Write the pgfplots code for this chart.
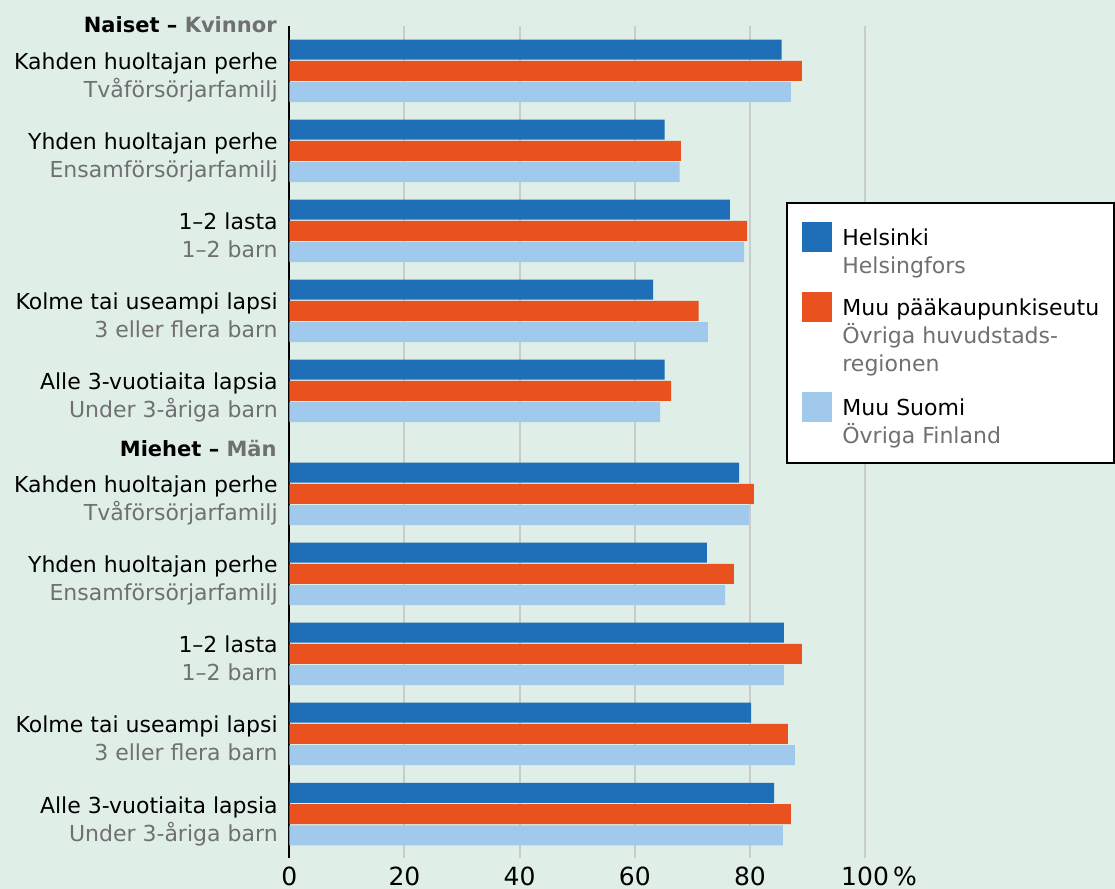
\documentclass[border=0pt]{standalone}
\usepackage{pgfplots}
\pgfplotsset{compat=1.18}
\usepackage{fontspec}
\setmainfont{DejaVu Sans}
\definecolor{hblue}{RGB}{30,111,184}
\definecolor{horange}{RGB}{233,82,30}
\definecolor{hlight}{RGB}{160,201,235}
\definecolor{bgc}{RGB}{223,239,231}
\definecolor{gridc}{RGB}{200,204,202}
\definecolor{txtgray}{RGB}{112,112,112}
\newcommand{\lab}[2]{#1\strut\\\textcolor{txtgray}{#2\strut}}
\begin{document}
\begin{tikzpicture}
\fill[bgc] (0,0) rectangle (557.5bp,444.5bp);
\begin{axis}[
  at={(144.65bp,15.5bp)},anchor=south west,
  scale only axis,width=412.85bp,height=416bp,
  xbar,bar width=0.25,
  xmin=0,xmax=143.4,ymin=-9.8375,ymax=0.5625,
  axis lines=left,axis line style={-},
  x axis line style={draw=none},
  y axis line style={black,line width=1.2bp},
  xmajorgrids,grid style={gridc,line width=1bp},
  major tick length=0,
  xtick={0,20,40,60,80,100},
  xticklabels={0,20,40,60,80,{100\rlap{\,\%}}},
  xticklabel style={font=\fontsize{12.5bp}{14bp}\selectfont,yshift=-1bp},
  ytick={0,-1,-2,-3,-4,-5.2875,-6.2875,-7.2875,-8.2875,-9.29},
  yticklabels={
    {\lab{Kahden huoltajan perhe}{Tvåförsörjarfamilj}},
    {\lab{Yhden huoltajan perhe}{Ensamförsörjarfamilj}},
    {\lab{1–2 lasta}{1–2 barn}},
    {\lab{Kolme tai useampi lapsi}{3 eller flera barn}},
    {\lab{Alle 3-vuotiaita lapsia}{Under 3-åriga barn}},
    {\lab{Kahden huoltajan perhe}{Tvåförsörjarfamilj}},
    {\lab{Yhden huoltajan perhe}{Ensamförsörjarfamilj}},
    {\lab{1–2 lasta}{1–2 barn}},
    {\lab{Kolme tai useampi lapsi}{3 eller flera barn}},
    {\lab{Alle 3-vuotiaita lapsia}{Under 3-åriga barn}}},
  yticklabel style={align=right,font=\fontsize{11bp}{14bp}\selectfont,yshift=-3.6bp,xshift=-2.3bp},
  clip=false,
]
% Helsinki
\addplot[draw=none,fill=hblue,bar shift=0.268] coordinates {
 (85.5,0) (65.2,-1) (76.5,-2) (63.2,-3) (65.2,-4)
 (78.1,-5.2875) (72.5,-6.2875) (85.9,-7.2875) (80.2,-8.2875) (84.2,-9.29)};
% Muu paakaupunkiseutu
\addplot[draw=none,fill=horange,bar shift=0] coordinates {
 (89.0,0) (68.0,-1) (79.5,-2) (71.1,-3) (66.3,-4)
 (80.7,-5.2875) (77.2,-6.2875) (89.0,-7.2875) (86.6,-8.2875) (87.1,-9.29)};
% Muu Suomi
\addplot[draw=none,fill=hlight,bar shift=-0.265] coordinates {
 (87.1,0) (67.8,-1) (79.0,-2) (72.7,-3) (64.4,-4)
 (79.8,-5.2875) (75.7,-6.2875) (85.9,-7.2875) (87.8,-8.2875) (85.7,-9.29)};
\end{axis}
% section headers
\node[anchor=base east,inner sep=0pt,font=\fontsize{10.5bp}{14bp}\selectfont\bfseries] at (138.5bp,428bp) {Naiset – \textcolor{txtgray}{Kvinnor}};
\node[anchor=base east,inner sep=0pt,font=\fontsize{10.5bp}{14bp}\selectfont\bfseries] at (138.5bp,216bp) {Miehet – \textcolor{txtgray}{Män}};
% legend
\draw[black,line width=0.75bp,fill=white] (393.5bp,343bp) rectangle (557bp,213bp);
\fill[hblue] (401bp,333.5bp) rectangle (416bp,318.5bp);
\fill[horange] (401bp,298.5bp) rectangle (416bp,283.5bp);
\fill[hlight] (401bp,248.5bp) rectangle (416bp,233.5bp);
\begin{scope}[every node/.style={anchor=base west,inner sep=0pt,font=\fontsize{11bp}{14bp}\selectfont}]
\node at (421bp,321.5bp) {Helsinki};
\node[txtgray] at (421bp,307.5bp) {Helsingfors};
\node at (421bp,286.5bp) {Muu pääkaupunkiseutu};
\node[txtgray] at (421bp,272.5bp) {Övriga huvudstads-};
\node[txtgray] at (421bp,258.5bp) {regionen};
\node at (421bp,236.5bp) {Muu Suomi};
\node[txtgray] at (421bp,222.5bp) {Övriga Finland};
\end{scope}
\pgfresetboundingbox
\useasboundingbox (0,0) rectangle (557.5bp,444.5bp);
\end{tikzpicture}
\end{document}
